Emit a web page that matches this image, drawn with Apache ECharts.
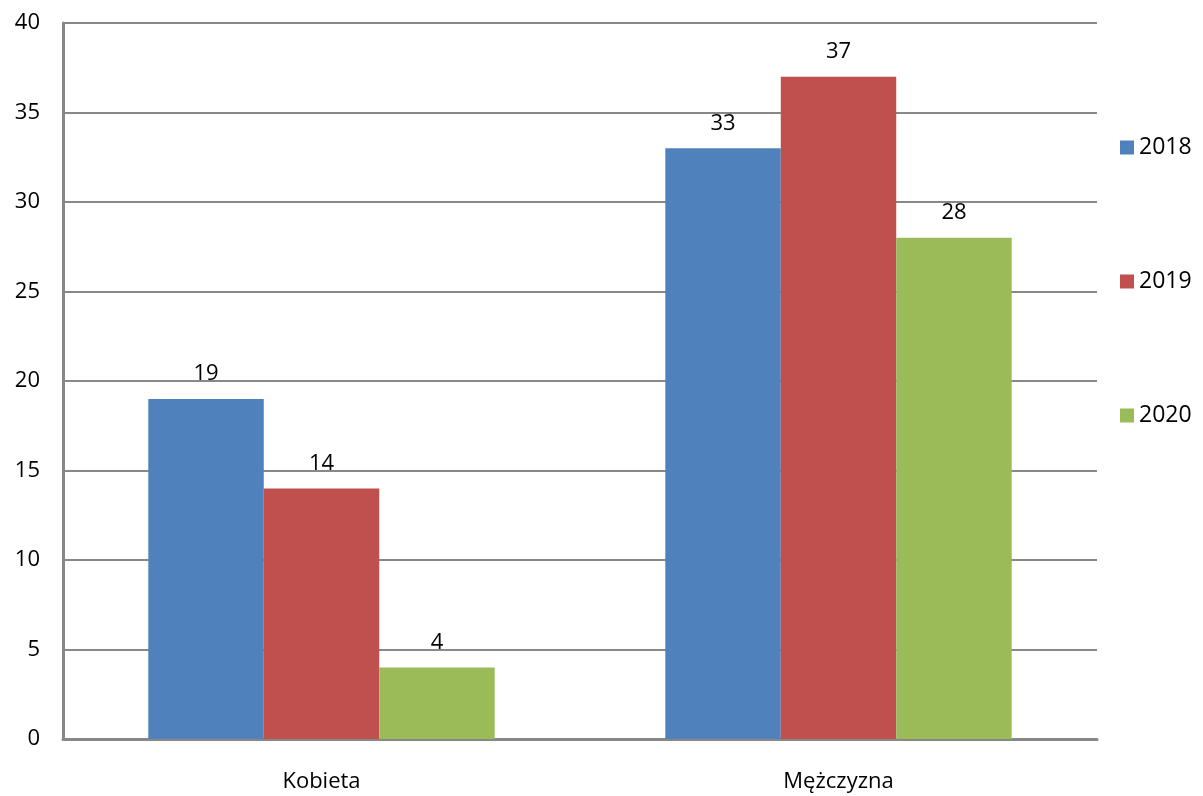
<!DOCTYPE html>
<html><head><meta charset="utf-8">
<script src="https://cdn.jsdelivr.net/npm/echarts@6/dist/echarts.min.js"></script>
<style>html,body{margin:0;padding:0;background:#fff}#c{width:1203px;height:796px}</style>
</head><body><div id="c"></div>
<script>
const categories = ['Kobieta', 'Mężczyzna'];
const seriesNames = ['2018', '2019', '2020'];
const values2018 = [19, 33];
const values2019 = [14, 37];
const values2020 = [4, 28];
const colors = ['#4F81BD', '#C0504D', '#9BBB59'];
const font = 'Open Sans, Liberation Sans, sans-serif';
const allValues = [values2018, values2019, values2020];
const chart = echarts.init(document.getElementById('c'));
chart.setOption({
  animation: false,
  grid: {left: 63, right: 106, top: 23, bottom: 57, containLabel: false},
  legend: {
    orient: 'vertical', left: 1115, top: 131, itemWidth: 14, itemHeight: 14, itemGap: 111,
    icon: 'rect', textStyle: {fontSize: 23, color: '#000', fontFamily: font},
    data: seriesNames
  },
  xAxis: {
    type: 'category', data: categories,
    axisLine: {lineStyle: {color: '#888', width: 3}},
    axisTick: {show: false},
    axisLabel: {fontSize: 22, color: '#000', fontFamily: font, margin: 32}
  },
  yAxis: {
    type: 'value', min: 0, max: 40, interval: 5,
    axisLine: {show: true, lineStyle: {color: '#888', width: 3}},
    axisTick: {show: false},
    splitLine: {lineStyle: {color: '#888', width: 2}},
    axisLabel: {fontSize: 22, color: '#000', fontFamily: font, margin: 23}
  },
  series: seriesNames.map((n, i) => ({
    name: n, type: 'bar', data: allValues[i],
    barGap: '0%', barCategoryGap: '33%',
    itemStyle: {color: colors[i]},
    label: {show: true, position: 'top', distance: 14, fontSize: 22, color: '#000', fontFamily: font}
  }))
});
</script></body></html>
